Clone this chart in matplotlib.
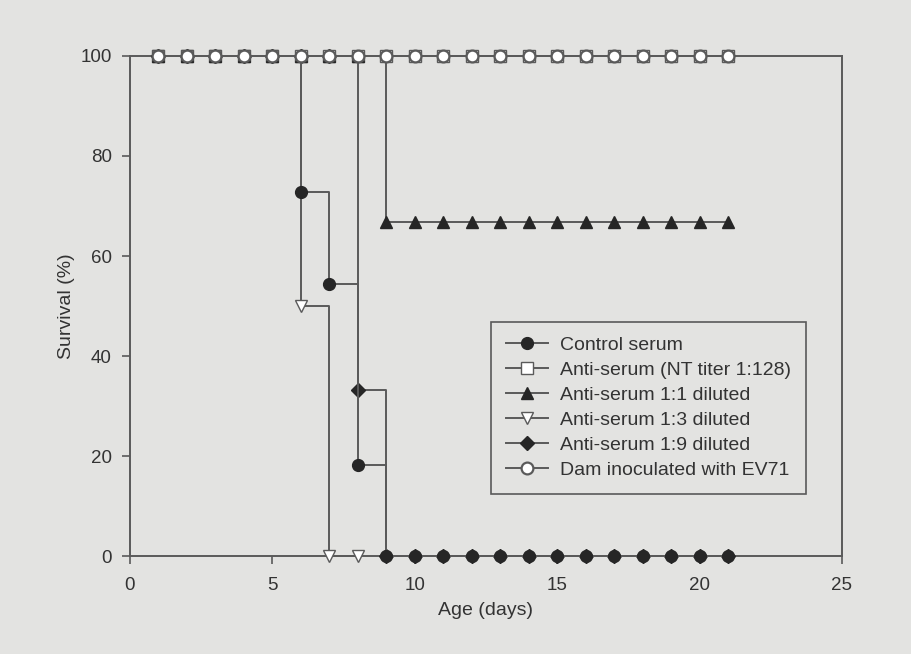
import numpy as np
import matplotlib
matplotlib.use("Agg")
import matplotlib.pyplot as plt

plt.rcParams['font.family'] = ['Liberation Sans', 'DejaVu Sans']

days = list(range(1, 22))

# survival (%) per group
control = [100, 100, 100, 100, 100, 72.7, 54.5, 18.2] + [0] * 13
nt128 = [100] * 21
dil_1_1 = [100] * 8 + [66.7] * 13
dil_1_3_days = list(range(1, 9))
dil_1_3 = [100, 100, 100, 100, 100, 50, 0, 0]
dil_1_9 = [100] * 7 + [33.3] + [0] * 13
dam = [100] * 21

labels = ["Control serum", "Anti-serum (NT titer 1:128)", "Anti-serum 1:1 diluted",
          "Anti-serum 1:3 diluted", "Anti-serum 1:9 diluted", "Dam inoculated with EV71"]

bg = "#e3e3e1"
linec = "#5a5a5a"
dark = "#262626"
txt = "#333333"

fig = plt.figure(figsize=(9.12, 6.54), dpi=100, facecolor=bg)
ax = fig.add_axes([0.1425, 0.1498, 0.7807, 0.7646])
ax.set_facecolor(bg)

common = dict(drawstyle="steps-post", color=linec, lw=1.4, markersize=8.5, clip_on=False)

ax.plot(days, control, marker="o", mfc=dark, mec=dark, label=labels[0], zorder=5, **common)
ax.plot(days, nt128, marker="s", mfc="white", mec=linec, label=labels[1], zorder=3, **common)
ax.plot(days, dil_1_1, marker="^", mfc=dark, mec=dark, label=labels[2], zorder=3, **common)
ax.plot(dil_1_3_days, dil_1_3, marker="v", mfc="white", mec=linec, label=labels[3], zorder=3, **common)
ax.plot(days, dil_1_9, marker="D", mfc=dark, mec=dark, label=labels[4], zorder=4,
        **{**common, "markersize": 7})
ax.plot(days, dam, marker="o", mfc="white", mec=linec, mew=1.6, label=labels[5], zorder=6, **common)

ax.set_xlim(0, 25)
ax.set_ylim(0, 100)
ax.set_xticks([0, 5, 10, 15, 20, 25])
ax.set_yticks([0, 20, 40, 60, 80, 100])
for s in ax.spines.values():
    s.set_color(linec)
    s.set_linewidth(1.4)
ax.tick_params(colors=linec, labelcolor=txt, labelsize=13.5, length=6, width=1.2, pad=7)
ax.tick_params(axis="x", pad=9)

ax.set_xlabel("Age (days)", fontsize=14, color=txt, labelpad=6)
ax.set_ylabel("Survival (%)", fontsize=14, color=txt, labelpad=4)

leg = ax.legend(loc="upper left", bbox_to_anchor=(0.507, 0.468), fontsize=14, frameon=True,
                fancybox=False, edgecolor=linec, facecolor=bg, framealpha=1,
                handlelength=2.2, labelspacing=0.38, borderpad=0.75, handletextpad=0.6,
                borderaxespad=0)
leg.get_frame().set_linewidth(1.2)
for t in leg.get_texts():
    t.set_color(txt)

fig.savefig("out.png", dpi=100, facecolor=bg)
